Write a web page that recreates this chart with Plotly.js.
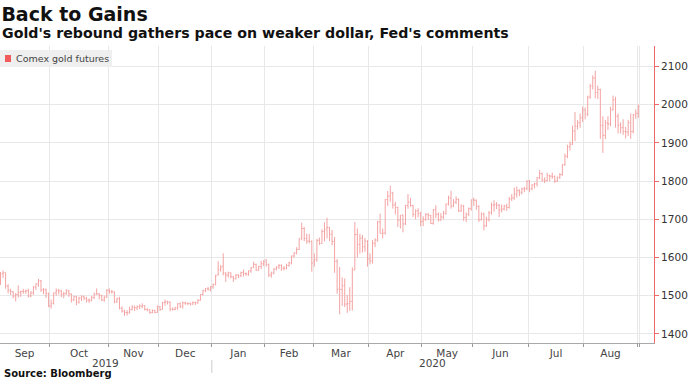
<!DOCTYPE html>
<html>
<head>
<meta charset="utf-8">
<script src="https://cdn.plot.ly/plotly-3.0.1.min.js"></script>
<style>html,body{margin:0;padding:0;background:#fff;}#chart{width:688px;height:386px;}</style>
</head>
<body>
<div id="chart"></div>
<script>
// Trading-day OHLC of Comex gold futures, Sep 3 2019 - Sep 1 2020
const seriesName = 'Comex gold futures';
const monthNames = ['Sep','Oct','Nov','Dec','Jan','Feb','Mar','Apr','May','Jun','Jul','Aug',''];
const monthDays  = [20,23,20,21,21,19,22,21,20,22,22,21,1];
const yearLabels = ['2019','2020'];
const yearMonthCounts = [4,9];
const yTicks = [1400,1500,1600,1700,1800,1900,2000,2100];

const open = [
 1530,1558,1560,1525,1513,1510,1499,1503,1508,1511,1511,1513,1499,1507,1522,1531,1539,1515,1515,1506,
 1473,1480,1507,1513,1512,1504,1506,1512,1504,1489,1497,1483,1494,1497,1493,1488,1488,1495,1504,1504,1500,1489,1496,
 1514,1511,1510,1484,1492,1467,1459,1456,1455,1464,1470,1468,1472,1472,1474,1464,1463,1456,1461,1456,
 1471,1464,1482,1484,1483,1465,1464,1468,1479,1472,1481,1480,1480,1478,1482,1481,1488,1503,1514,1518,1517,
 1523,1530,1555,1568,1577,1557,1554,1560,1549,1544,1554,1552,1561,1558,1556,1565,1575,1582,1567,1576,1583,
 1594,1582,1554,1559,1570,1575,1579,1572,1572,1579,1586,1604,1612,1621,1652,1676,1650,1643,1642,
 1589,1594,1645,1637,1668,1677,1679,1661,1642,1590,1517,1516,1526,1478,1479,1485,1567,1660,1634,1651,1628,1643,
 1596,1591,1637,1646,1693,1663,1664,1752,1761,1769,1738,1731,1698,1711,1688,1736,1745,1736,1713,1722,1715,
 1694,1700,1713,1710,1689,1726,1713,1698,1706,1716,1740,1756,1735,1745,1752,1722,1735,1705,1713,1728,
 1751,1750,1734,1699,1714,1683,1699,1717,1737,1739,1737,1725,1727,1735,1731,1753,1756,1766,1775,1771,1780,1781,
 1800,1780,1790,1793,1809,1820,1803,1801,1814,1813,1812,1800,1810,1817,1843,1865,1890,1897,1931,1944,1953,1966,
 1986,1976,2020,2049,2070,2032,2040,1946,1920,1952,1950,1987,2013,1970,1947,1940,1930,1929,1953,1930,1974,
 1978
];
const high = [
 1562,1566,1561,1530,1518,1512,1507,1527,1513,1518,1516,1518,1512,1525,1532,1544,1541,1520,1519,1508,
 1490,1508,1519,1518,1515,1510,1517,1515,1506,1500,1499,1497,1501,1500,1497,1493,1499,1508,1519,1507,1503,1500,1517,
 1519,1515,1511,1495,1497,1472,1463,1462,1471,1475,1474,1474,1477,1480,1475,1467,1464,1464,1463,1474,
 1473,1484,1490,1487,1485,1469,1471,1480,1482,1485,1484,1482,1482,1485,1484,1491,1504,1515,1520,1523,1525,
 1532,1555,1590,1580,1611,1562,1563,1561,1552,1557,1556,1563,1568,1561,1566,1575,1589,1584,1578,1591,1593,
 1595,1584,1563,1572,1577,1583,1582,1577,1584,1589,1605,1614,1627,1650,1691,1680,1663,1661,1645,
 1611,1649,1652,1674,1692,1704,1680,1672,1654,1596,1575,1548,1545,1502,1522,1574,1693,1676,1662,1659,1651,1645,
 1611,1646,1650,1696,1715,1676,1753,1774,1788,1772,1746,1733,1711,1712,1738,1766,1756,1738,1726,1729,1720,
 1708,1716,1716,1712,1727,1737,1718,1716,1722,1741,1762,1775,1753,1760,1755,1739,1738,1718,1731,1752,
 1757,1752,1737,1718,1717,1707,1722,1744,1750,1745,1740,1739,1738,1741,1759,1766,1783,1786,1779,1783,1785,1802,
 1803,1792,1796,1811,1829,1822,1810,1822,1817,1822,1815,1812,1821,1845,1872,1895,1904,1945,1981,1960,1977,1995,
 1993,2024,2055,2077,2089,2050,2042,1970,1960,1970,1995,2024,2021,1977,1954,1962,1942,1960,1977,1976,1988,
 2001
];
const low = [
 1528,1546,1518,1506,1502,1493,1485,1495,1497,1505,1505,1495,1496,1502,1515,1523,1510,1504,1494,1470,
 1466,1477,1500,1503,1496,1493,1502,1497,1482,1486,1475,1479,1486,1488,1482,1481,1485,1491,1502,1490,1486,1484,1494,
 1505,1505,1480,1481,1464,1456,1447,1448,1453,1461,1460,1462,1465,1467,1461,1459,1452,1454,1454,1455,
 1460,1463,1474,1477,1459,1461,1462,1463,1468,1466,1476,1475,1474,1476,1476,1479,1487,1501,1509,1513,1511,
 1518,1527,1553,1563,1553,1536,1547,1545,1536,1543,1546,1549,1550,1552,1552,1560,1572,1565,1565,1570,1577,
 1576,1549,1547,1556,1566,1570,1565,1566,1569,1576,1582,1600,1608,1620,1645,1643,1636,1637,1563,
 1576,1589,1633,1636,1642,1650,1643,1632,1560,1505,1451,1473,1470,1455,1460,1461,1567,1600,1610,1613,1615,1576,
 1582,1584,1627,1641,1663,1650,1660,1735,1746,1728,1713,1680,1676,1666,1685,1728,1733,1706,1700,1705,1682,
 1682,1696,1698,1688,1686,1703,1694,1696,1700,1712,1736,1728,1732,1740,1719,1720,1696,1693,1708,1722,
 1735,1725,1693,1697,1671,1680,1694,1712,1720,1727,1706,1718,1723,1722,1728,1748,1751,1757,1761,1765,1771,1776,
 1771,1776,1781,1786,1805,1798,1795,1800,1800,1806,1795,1798,1806,1814,1840,1860,1880,1895,1905,1935,1940,1955,
 1962,1970,2016,2040,2017,2015,1911,1874,1910,1934,1944,1985,1940,1925,1925,1921,1912,1918,1911,1925,1963,
 1966
];
const close = [
 1556,1560,1525,1515,1511,1499,1503,1508,1511,1511,1513,1499,1507,1523,1531,1539,1515,1515,1507,1473,
 1479,1507,1513,1513,1504,1505,1513,1505,1489,1498,1483,1494,1498,1494,1488,1488,1495,1504,1505,1501,1488,1496,1514,
 1511,1510,1484,1492,1467,1459,1456,1455,1464,1470,1468,1472,1473,1474,1464,1463,1456,1461,1456,1472,
 1464,1482,1484,1483,1465,1464,1468,1479,1472,1481,1480,1480,1478,1482,1481,1488,1503,1514,1518,1517,1523,
 1529,1552,1568,1574,1560,1554,1560,1550,1544,1554,1552,1560,1558,1556,1565,1572,1582,1567,1577,1584,1589,
 1582,1554,1559,1570,1575,1579,1572,1572,1579,1586,1604,1612,1621,1649,1676,1650,1643,1642,1585,
 1594,1644,1637,1668,1672,1679,1661,1642,1590,1517,1516,1526,1478,1479,1485,1567,1660,1634,1651,1628,1643,1597,
 1591,1637,1646,1693,1663,1664,1752,1761,1769,1738,1731,1698,1711,1688,1736,1745,1736,1713,1722,1715,1694,
 1700,1713,1710,1689,1726,1713,1698,1706,1716,1740,1756,1735,1745,1752,1722,1735,1705,1713,1728,1751,
 1750,1734,1699,1714,1683,1699,1717,1737,1739,1737,1725,1727,1735,1731,1753,1756,1766,1775,1771,1780,1781,1800,
 1780,1790,1793,1809,1820,1803,1801,1814,1813,1812,1800,1810,1817,1843,1865,1890,1897,1931,1944,1953,1966,1986,
 1976,2020,2049,2070,2032,2040,1946,1920,1952,1950,1987,2013,1970,1947,1940,1930,1929,1953,1930,1974,1978,
 1995
];

// ---- derived positions (trading-day index axis) ----
const xIdx = close.map((_, i) => i);
const xMin = -0.2, xMax = 258.2;
const boundaries = [], centers = [];
let start = 0;
monthDays.forEach((n) => { centers.push(start + (n - 1) / 2); start += n; boundaries.push(start - 0.5); });
const monthTickVals = [], monthTickText = [];
monthNames.forEach((m, i) => { if (m) { monthTickVals.push(centers[i]); monthTickText.push(m); } });

// year label spans
const yearSpans = [];
let mi = 0, lastB = xMin;
yearMonthCounts.forEach((cnt, k) => {
  mi += cnt;
  const end = (k === yearMonthCounts.length - 1) ? xMax : boundaries[mi - 1];
  yearSpans.push([lastB, end]);
  lastB = end;
});

const W = 688, H = 386, M = {l: 0, r: 34, t: 46, b: 43};
const plotW = W - M.l - M.r, plotH = H - M.t - M.b;
const py = (px) => 1 - (px - M.t) / plotH;   // pixel row -> paper y
const pxX = (px) => px / plotW;               // pixel col -> paper x

const font = 'DejaVu Sans, Verdana, sans-serif';
const barColor = '#f4a3a3';
const red = '#f06a6a';

const trace = {
  type: 'ohlc', x: xIdx, open: open, high: high, low: low, close: close,
  increasing: {line: {color: barColor, width: 1}},
  decreasing: {line: {color: barColor, width: 1}},
  tickwidth: 0.4, hoverinfo: 'skip', showlegend: false, name: seriesName
};

const annotations = [
  {text: "<b>Gold's rebound gathers pace on weaker dollar, Fed's comments</b>", xref: 'paper', yref: 'paper',
   x: pxX(0), y: py(33), xanchor: 'left', yanchor: 'middle', showarrow: false, font: {family: font, size: 14.2, color: '#111'}},
  {text: '<b>Source: Bloomberg</b>', xref: 'paper', yref: 'paper', x: pxX(2), y: py(373), xanchor: 'left', yanchor: 'middle',
   showarrow: false, font: {family: font, size: 10, color: '#111'}},
  {text: seriesName, xref: 'paper', yref: 'paper', x: pxX(14), y: py(58.5), xanchor: 'left', yanchor: 'middle',
   showarrow: false, font: {family: font, size: 9.5, color: '#444'}}
];
yearLabels.forEach((yl, k) => {
  annotations.push({text: yl, xref: 'x', yref: 'paper', x: (yearSpans[k][0] + yearSpans[k][1]) / 2, y: py(363),
    xanchor: 'center', yanchor: 'middle', showarrow: false, font: {family: font, size: 10.5, color: '#444'}});
});

const shapes = [
  {type: 'rect', xref: 'paper', yref: 'paper', x0: 0, x1: pxX(112), y0: py(67), y1: py(50), fillcolor: '#efefef', line: {width: 0}, layer: 'above'},
  {type: 'rect', xref: 'paper', yref: 'paper', x0: pxX(5), x1: pxX(11), y0: py(62), y1: py(55), fillcolor: '#f05a5a', line: {width: 0}, layer: 'above'},
  {type: 'line', xref: 'x', yref: 'paper', x0: yearSpans[0][1], x1: yearSpans[0][1], y0: py(360), y1: py(373), line: {color: '#cccccc', width: 1}}
];

const layout = {
  width: W, height: H, margin: M,
  paper_bgcolor: '#fff', plot_bgcolor: '#fff',
  title: {text: '<b>Back to Gains</b>', xref: 'container', yref: 'container', x: 0.002, xanchor: 'left',
          y: 1 - 14 / H, yanchor: 'middle', font: {family: font, size: 19, color: '#111'}},
  showlegend: false,
  xaxis: {
    type: 'linear', range: [xMin, xMax], fixedrange: true, zeroline: false,
    tickmode: 'array', tickvals: monthTickVals, ticktext: monthTickText, ticks: '', showgrid: false,
    tickfont: {family: font, size: 10.5, color: '#444'},
    showline: true, linecolor: '#a8a8a8', linewidth: 1,
    minor: {tickmode: 'array', tickvals: boundaries, showgrid: true, gridcolor: '#e8e8e8', gridwidth: 1,
            ticks: 'outside', ticklen: 3, tickcolor: '#999'},
    rangeslider: {visible: false}
  },
  yaxis: {
    side: 'right', range: [1376, 2154], fixedrange: true, zeroline: false,
    tickmode: 'array', tickvals: yTicks, ticks: 'outside', ticklen: 4, tickcolor: red,
    showline: true, linecolor: red, linewidth: 1,
    showgrid: true, gridcolor: '#e8e8e8', gridwidth: 1,
    tickfont: {family: font, size: 10.5, color: '#333'}
  },
  annotations: annotations,
  shapes: shapes
};

Plotly.newPlot('chart', [trace], layout, {staticPlot: true, displayModeBar: false});
</script>
</body>
</html>
